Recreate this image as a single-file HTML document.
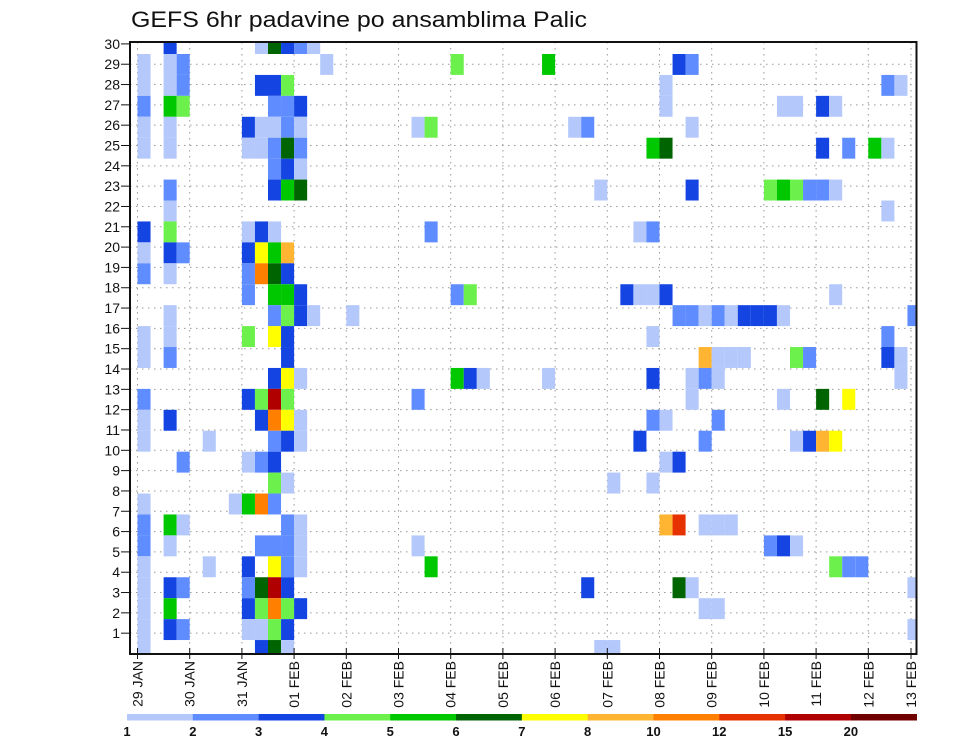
<!DOCTYPE html>
<html><head><meta charset="utf-8"><style>
html,body{margin:0;padding:0;background:#fff;width:960px;height:742px;overflow:hidden}
svg{display:block;font-family:"Liberation Sans",sans-serif}
</style></head><body>
<svg id="chart" width="960" height="742" viewBox="0 0 960 742" xmlns="http://www.w3.org/2000/svg">
<text x="131" y="27" font-size="22" textLength="456" lengthAdjust="spacingAndGlyphs" fill="#111">GEFS 6hr padavine po ansamblima Palic</text>
<g id="grid"></g>
<g id="cellsG"></g>
<rect x="130" y="42" width="786.5" height="612" fill="none" stroke="#111" stroke-width="2"/>
<g id="axes"></g>
<g id="cbar"></g>
</svg>
<script>
// [timestep column (6h steps from 29 JAN 00z), ensemble row from top, colour level 1..12]
const cells = [
[2,0,3],[9,0,1],[10,0,6],[11,0,3],[12,0,2],[13,0,1],
[0,1,1],[2,1,1],[3,1,2],[14,1,1],[24,1,4],[31,1,5],[41,1,3],[42,1,2],
[0,2,1],[2,2,1],[3,2,2],[9,2,3],[10,2,3],[11,2,4],[40,2,1],[57,2,2],[58,2,1],
[0,3,2],[2,3,5],[3,3,4],[10,3,2],[11,3,2],[12,3,3],[40,3,1],[49,3,1],[50,3,1],[52,3,3],[53,3,1],
[0,4,1],[2,4,1],[8,4,3],[9,4,1],[10,4,1],[11,4,2],[12,4,1],[21,4,1],[22,4,4],[33,4,1],[34,4,2],[42,4,1],
[0,5,1],[2,5,1],[8,5,1],[9,5,1],[10,5,2],[11,5,6],[12,5,2],[39,5,5],[40,5,6],[52,5,3],[54,5,2],[56,5,5],[57,5,1],
[10,6,2],[11,6,3],[12,6,1],
[2,7,2],[10,7,3],[11,7,5],[12,7,6],[35,7,1],[42,7,3],[48,7,4],[49,7,5],[50,7,4],[51,7,2],[52,7,2],[53,7,1],
[2,8,1],[57,8,1],
[0,9,3],[2,9,4],[8,9,1],[9,9,3],[10,9,1],[22,9,2],[38,9,1],[39,9,2],
[0,10,1],[2,10,3],[3,10,2],[8,10,3],[9,10,7],[10,10,5],[11,10,8],
[0,11,2],[2,11,1],[8,11,2],[9,11,9],[10,11,6],[11,11,3],
[8,12,2],[10,12,5],[11,12,5],[12,12,3],[24,12,2],[25,12,4],[37,12,3],[38,12,1],[39,12,1],[40,12,3],[53,12,1],
[2,13,1],[10,13,2],[11,13,4],[12,13,3],[13,13,1],[16,13,1],[41,13,2],[42,13,2],[43,13,1],[44,13,2],[45,13,1],[46,13,3],[47,13,3],[48,13,3],[49,13,1],[59,13,2],
[0,14,1],[2,14,1],[8,14,4],[10,14,7],[11,14,3],[39,14,1],[57,14,2],
[0,15,1],[2,15,2],[11,15,3],[43,15,8],[44,15,1],[45,15,1],[46,15,1],[50,15,4],[51,15,2],[57,15,3],[58,15,1],
[10,16,3],[11,16,7],[12,16,1],[24,16,5],[25,16,3],[26,16,1],[31,16,1],[39,16,3],[42,16,1],[43,16,2],[44,16,1],[58,16,1],
[0,17,2],[8,17,3],[9,17,4],[10,17,11],[11,17,4],[21,17,2],[42,17,1],[49,17,1],[52,17,6],[54,17,7],
[0,18,1],[2,18,3],[9,18,3],[10,18,9],[11,18,7],[12,18,1],[39,18,2],[40,18,1],[44,18,2],
[0,19,1],[5,19,1],[10,19,2],[11,19,3],[12,19,1],[38,19,3],[43,19,2],[50,19,1],[51,19,3],[52,19,8],[53,19,7],
[3,20,2],[8,20,1],[9,20,2],[10,20,3],[40,20,1],[41,20,3],
[10,21,4],[11,21,1],[36,21,1],[39,21,1],
[0,22,1],[7,22,1],[8,22,5],[9,22,9],[10,22,2],
[0,23,2],[2,23,5],[3,23,1],[11,23,2],[12,23,1],[40,23,8],[41,23,10],[43,23,1],[44,23,1],[45,23,1],
[0,24,2],[2,24,1],[9,24,2],[10,24,2],[11,24,2],[12,24,1],[21,24,1],[48,24,2],[49,24,3],[50,24,1],
[0,25,1],[5,25,1],[8,25,3],[10,25,7],[11,25,2],[12,25,1],[22,25,5],[53,25,4],[54,25,2],[55,25,2],
[0,26,1],[2,26,3],[3,26,2],[8,26,2],[9,26,6],[10,26,11],[11,26,3],[34,26,3],[41,26,6],[42,26,1],[59,26,1],
[0,27,1],[2,27,5],[8,27,3],[9,27,4],[10,27,9],[11,27,4],[12,27,3],[43,27,1],[44,27,1],
[0,28,1],[2,28,3],[3,28,2],[8,28,1],[9,28,1],[10,28,4],[11,28,3],[59,28,1],
[0,29,1],[9,29,3],[10,29,6],[11,29,1],[35,29,1],[36,29,1]
];
const levelColors = ["#b4c8fb","#5f8dff","#1445e3","#6cf04c","#00c800","#006400","#ffff00","#ffb432","#ff8000","#e63200","#b00000","#700000"];
const levelLabels = ["1","2","3","4","5","6","7","8","10","12","15","20"];
const dayLabels = ["29 JAN","30 JAN","31 JAN","01 FEB","02 FEB","03 FEB","04 FEB","05 FEB","06 FEB","07 FEB","08 FEB","09 FEB","10 FEB","11 FEB","12 FEB","13 FEB"];
const rowLabels = [1,2,3,4,5,6,7,8,9,10,11,12,13,14,15,16,17,18,19,20,21,22,23,24,25,26,27,28,29,30];

const NS="http://www.w3.org/2000/svg";
const PL=130, PR=916.5, PT=42, PB=654;
function xCol(c){return 137.5+13.05*c;}
function xDay(d){return Math.min(137.5+52.2*d, 911);}
function yCellTop(i){return 54+20.93*(i-1);}
function yTick(r){return 653.5-20.32*r;}
function mk(tag,attrs,parent){const e=document.createElementNS(NS,tag);for(const k in attrs)e.setAttribute(k,attrs[k]);parent.appendChild(e);return e;}

const grid=document.getElementById('grid');
rowLabels.forEach(r=>{
  const y=yTick(r);
  if(y>PT+2){
    const l=mk('line',{x1:PL,x2:PR,y1:y,y2:y,stroke:'#999','stroke-width':1,'stroke-dasharray':'1.5,4.5'},grid);
    
    
  }
});
dayLabels.forEach((d,i)=>{
  const x=xDay(i);
  const l=mk('line',{x1:x,x2:x,y1:PT,y2:PB,stroke:'#999','stroke-width':1,'stroke-dasharray':'1.5,4.5'},grid);
  
  
});

const cg=document.getElementById('cellsG');
cells.forEach(([c,i,lv])=>{
  const x0=xCol(c), x1=Math.min(xCol(c+1),PR);
  const y0=Math.max(yCellTop(i),PT), y1=Math.min(yCellTop(i+1),PB);
  const r=mk('rect',{x:x0,y:y0,width:x1-x0,height:y1-y0,fill:levelColors[lv-1]},cg);
  
  
});

const ax=document.getElementById('axes');
rowLabels.forEach(r=>{
  const y=yTick(r);
  const t=mk('line',{x1:121,x2:PL,y1:y,y2:y,stroke:'#111','stroke-width':1},ax);
  
  
  const tx=mk('text',{x:120,y:y+5,'font-size':14,'text-anchor':'end',fill:'#111'},ax);
  tx.textContent=String(r);
  
  
});
dayLabels.forEach((d,i)=>{
  const x=xDay(i);
  const t=mk('line',{x1:x,x2:x,y1:PB-6,y2:PB+5,stroke:'#111','stroke-width':1},ax);
  
  
  const tx=mk('text',{x:0,y:0,'font-size':14,'text-anchor':'end','dominant-baseline':'central',fill:'#111',transform:'translate('+x+',661) rotate(-90)'},ax);
  tx.textContent=d;
  
  
});

const cb=document.getElementById('cbar');
const CB0=127, CBW=(916.7-127)/levelColors.length;
levelColors.forEach((col,k)=>{
  const r=mk('rect',{x:CB0+CBW*k,y:714,width:CBW+0.3,height:6.5,fill:col},cb);
  
  
});
levelLabels.forEach((lab,k)=>{
  const t=mk('text',{x:CB0+CBW*k,y:736,'font-size':13,'font-weight':'bold','text-anchor':'middle',fill:'#111'},cb);
  t.textContent=lab;
  
  
});
</script>
</body></html>
